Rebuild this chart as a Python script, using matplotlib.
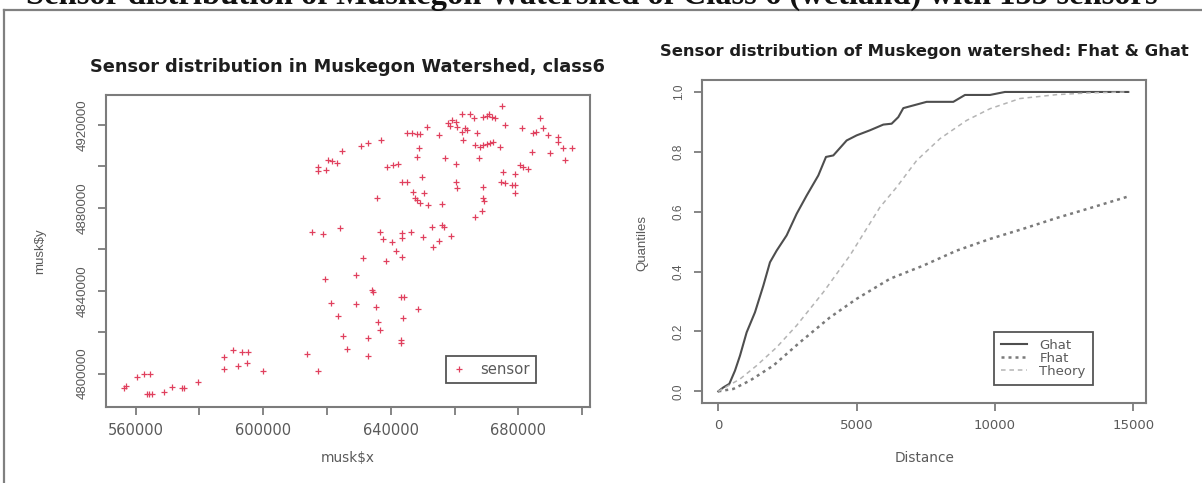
import matplotlib
matplotlib.use('Agg')
import matplotlib.pyplot as plt
from matplotlib.lines import Line2D

plt.rcParams['font.family'] = ['DejaVu Sans']

# ---------------- data ----------------
sensor_x = [556448, 556866, 560522, 562716, 564493, 563448, 564179, 565015, 568881, 571284,
            574418, 575254, 579433, 587792, 587792, 590613, 593225, 595314, 591971, 594999,
            599807, 613598, 617255,
            615165, 618613, 624046, 619344, 621121, 623315, 624882, 626136, 628957, 628957,
            631151, 632718, 632718, 633972, 634285, 635330, 635748, 635852, 636688, 636688,
            637420, 638464, 640240, 641599, 643375, 643166, 644002, 643689, 643166, 643166,
            643584, 643584, 646300, 648390, 649957, 652778, 653300, 655181, 655913, 656748,
            658838,
            617046, 617255, 619553, 620389, 621643, 623210, 624778, 630628, 632718, 636897,
            638673, 640763, 642330, 643375, 644942, 646823, 647554, 648181, 649121, 651733,
            649644, 650480, 655913, 648077, 648913, 644942, 646509, 648077, 649121, 651211,
            655077, 656957, 657793, 658524, 659047, 660301, 660614, 660301, 660301, 660614,
            662181, 664793, 662181, 663226, 663749, 662704, 666152, 666883, 667614, 666361,
            667928, 668973, 670018, 671063, 672108, 668973, 670018, 670749, 671585, 672630,
            668973, 668973, 669286, 668660, 666361, 674197, 674720, 675765, 675242, 674511,
            675765, 677855, 678899, 678899, 678899, 680466, 681511, 682870, 681197, 684123,
            684645, 685377, 686735, 687780, 689347, 689870, 692482, 692482, 694049, 696661,
            694572]
sensor_y = [4793244, 4794048, 4798231, 4799839, 4799839, 4790187, 4790027, 4790027, 4791314, 4793727,
            4793244, 4793244, 4796139, 4802252, 4808204, 4811421, 4810617, 4810617, 4803700, 4805308,
            4801287, 4809330, 4801287,
            4868526, 4867400, 4870135, 4845684, 4833941, 4827990, 4818338, 4811904, 4847615, 4833459,
            4855658, 4817373, 4808686, 4840376, 4839250, 4832333, 4884934, 4824772, 4821073, 4868526,
            4864987, 4854371, 4863700, 4859357, 4856462, 4837159, 4837159, 4826703, 4816247, 4814960,
            4867722, 4865309, 4868526, 4831207, 4866113, 4870939, 4861288, 4864022, 4871744, 4870939,
            4866596,
            4899894, 4897803, 4898285, 4903111, 4902629, 4901503, 4907454, 4909867, 4911154, 4912763,
            4899894, 4900698, 4901020, 4892655, 4892334, 4887830, 4884612, 4883808, 4882199, 4881395,
            4895068, 4887347, 4881717, 4904720, 4908741, 4916302, 4915980, 4915497, 4915497, 4919197,
            4915175, 4903915, 4920806, 4919680, 4922414, 4921610, 4919197, 4901020, 4892655, 4889438,
            4925149, 4925149, 4916784, 4918393, 4917588, 4912763, 4923221, 4915980, 4903915, 4910350,
            4909546, 4910350, 4910672, 4911154, 4911637, 4924023, 4924506, 4925149, 4924023, 4923221,
            4890242, 4884612, 4883486, 4878500, 4875444, 4909546, 4929171, 4920002, 4897481, 4892655,
            4891851, 4891047, 4891047, 4896194, 4887025, 4900698, 4899894, 4898768, 4918393, 4907133,
            4915980, 4916784, 4923543, 4918393, 4915175, 4906329, 4914371, 4911958, 4908741, 4908741,
            4903111]

ghat_x = [0, 181, 398, 602, 783, 1024, 1325, 1627, 1867, 2108, 2470, 2831, 3193, 3614, 3892,
          4157, 4639, 5000, 5482, 5964, 6265, 6506, 6687, 7048, 7530, 8494, 8916, 9819, 10361, 14819]
ghat_y = [0, 0.013, 0.025, 0.069, 0.119, 0.197, 0.264, 0.353, 0.431, 0.470, 0.521, 0.593, 0.654,
          0.721, 0.783, 0.788, 0.838, 0.855, 0.872, 0.891, 0.894, 0.916, 0.946, 0.955, 0.967, 0.967,
          0.990, 0.990, 1.0, 1.0]
fhat_x = [0, 542, 1145, 1988, 2952, 4036, 5000, 6205, 7410, 8614, 9819, 11024, 12229, 13434, 14855]
fhat_y = [0, 0.008, 0.036, 0.086, 0.164, 0.247, 0.309, 0.376, 0.420, 0.470, 0.509, 0.543, 0.579,
          0.612, 0.652]
theory_x = [0, 783, 1386, 2108, 2831, 3795, 4759, 5843, 6446, 7169, 8012, 8976, 9819, 10903,
            12229, 13434, 14819]
theory_y = [0, 0.041, 0.086, 0.147, 0.220, 0.331, 0.454, 0.615, 0.682, 0.771, 0.844, 0.905,
            0.944, 0.978, 0.991, 0.997, 1.0]

x1_ticks = [560000, 580000, 600000, 620000, 640000, 660000, 680000, 700000]
x1_labels = ['560000', '', '600000', '', '640000', '', '680000', '']
y1_ticks = [4800000, 4820000, 4840000, 4860000, 4880000, 4900000, 4920000]
y1_labels = ['4800000', '', '4840000', '', '4880000', '', '4920000']
x2_ticks = [0, 5000, 10000, 15000]
x2_labels = ['0', '5000', '10000', '15000']
y2_ticks = [0.0, 0.2, 0.4, 0.6, 0.8, 1.0]
y2_labels = ['0.0', '0.2', '0.4', '0.6', '0.8', '1.0']

outer_title = 'Sensor distribution of Muskegon Watershed of Class 6 (wetland) with 155 sensors'

# ---------------- style ----------------
FRAME = '#7c7c7c'
TXT = '#5a5a5a'
TITLE = '#1e1e1e'
NARROW = ['Liberation Sans', 'DejaVu Sans']

fig = plt.figure(figsize=(12.02, 4.83), dpi=100)
fig.patch.set_facecolor('white')

# outer page text and border
fig.text(0.022, 1 - 4.0 / 483, outer_title, family=['Liberation Serif', 'DejaVu Serif'],
         fontweight='bold', fontsize=23.5, ha='left', va='baseline', color='#111111')
fig.add_artist(Line2D([3.5 / 1202, 1.0], [1 - 9.5 / 483, 1 - 9.5 / 483],
                      transform=fig.transFigure, color='#808080', lw=1.6))
fig.add_artist(Line2D([4 / 1202, 4 / 1202], [0, 1 - 9.5 / 483],
                      transform=fig.transFigure, color='#808080', lw=1.6))

ax1 = fig.add_axes([0.0879, 0.1580, 0.4029, 0.6453])
ax2 = fig.add_axes([0.5843, 0.1650, 0.3691, 0.6694])


def style(ax, xfs, yfs):
    for s in ax.spines.values():
        s.set_color(FRAME)
        s.set_linewidth(1.5)
    ax.tick_params(axis='both', direction='out', length=6, width=1.3, color=FRAME,
                   labelcolor=TXT)
    ax.tick_params(axis='x', pad=5.5, labelsize=xfs)
    ax.tick_params(axis='y', pad=6.5, labelsize=yfs)
    for lab in ax.get_yticklabels():
        lab.set_family(NARROW)


# ---- left scatter ----
ax1.plot(sensor_x, sensor_y, linestyle='none', marker='+', ms=5, mew=0.9,
         color='#e0405e', label='sensor')
ax1.set_xlim(550596, 702414)
ax1.set_ylim(4784071, 4934481)
ax1.set_xticks(x1_ticks)
ax1.set_xticklabels(x1_labels)
ax1.set_yticks(y1_ticks)
ax1.set_yticklabels(y1_labels, rotation=90, va='center')
style(ax1, 10.5, 9.5)
ax1.set_title('Sensor distribution in Muskegon Watershed, class6', fontsize=12.8,
              fontweight='bold', color=TITLE, y=1.0898, va='center', pad=0)
ax1.set_xlabel('musk$x', fontsize=9.8, color=TXT)
ax1.set_ylabel('musk$y', fontsize=9.5, color=TXT, family=NARROW)
ax1.xaxis.set_label_coords(0.5, -0.165)
ax1.xaxis.label.set_verticalalignment('center')
ax1.yaxis.set_label_coords(-0.136, 0.5)
ax1.yaxis.label.set_verticalalignment('center')
leg1 = ax1.legend(loc='upper left', bbox_to_anchor=(0.702, 0.164), fontsize=10.7,
                  handlelength=1.0, handletextpad=0.9, borderpad=0.42, borderaxespad=0,
                  fancybox=False, framealpha=1, edgecolor='#555555', labelcolor=TXT,
                  numpoints=1)
leg1.get_frame().set_linewidth(1.3)

# ---- right curves ----
ax2.plot(ghat_x, ghat_y, color='#4e4e4e', lw=1.5, linestyle='-', label='Ghat')
ax2.plot(fhat_x, fhat_y, color='#7a7a7a', lw=1.8, linestyle=(0, (1.2, 1.6)), label='Fhat')
ax2.plot(theory_x, theory_y, color='#b4b4b4', lw=1.1, linestyle=(0, (3, 2.5)), label='Theory')
ax2.set_xlim(-578, 15459)
ax2.set_ylim(-0.04, 1.04)
ax2.set_xticks(x2_ticks)
ax2.set_xticklabels(x2_labels)
ax2.set_yticks(y2_ticks)
ax2.set_yticklabels(y2_labels, rotation=90, va='center')
style(ax2, 9.5, 8.5)
ax2.set_title('Sensor distribution of Muskegon watershed: Fhat & Ghat', fontsize=11.8,
              fontweight='bold', color=TITLE, y=1.0866, va='center', pad=0)
ax2.set_xlabel('Distance', fontsize=9.8, color=TXT)
ax2.set_ylabel('Quantiles', fontsize=9.5, color=TXT, family=NARROW)
ax2.xaxis.set_label_coords(0.5, -0.169)
ax2.xaxis.label.set_verticalalignment('center')
ax2.yaxis.set_label_coords(-0.136, 0.496)
ax2.yaxis.label.set_verticalalignment('center')
leg2 = ax2.legend(loc='upper left', bbox_to_anchor=(0.657, 0.2215), fontsize=9.5,
                  handlelength=2.0, handletextpad=0.9, borderpad=0.55, borderaxespad=0,
                  labelspacing=0.0, fancybox=False, framealpha=1, edgecolor='#555555',
                  labelcolor=TXT)
leg2.get_frame().set_linewidth(1.3)

fig.savefig('out.png', dpi=100)
